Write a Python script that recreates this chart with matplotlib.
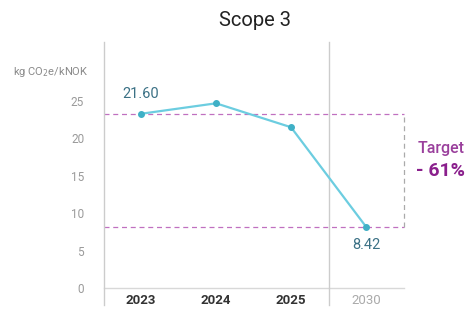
import matplotlib
matplotlib.use("Agg")
import matplotlib.pyplot as plt

years = ["2023", "2024", "2025", "2030"]
values = [23.3, 24.7, 21.5, 8.2]
value_labels = ["21.60", "", "", "8.42"]
target_text = "Target"
target_pct = "- 61%"
yticks = [0, 5, 10, 15, 20, 25]

plt.rcParams["font.family"] = ["Roboto", "DejaVu Sans"]

fig = plt.figure(figsize=(4.72, 3.12), dpi=100)
ax = fig.add_axes([0.2193, 0.0769, 0.6356, 0.7885])

x = list(range(len(years)))
ax.plot(x, values, color="#6ccde0", linewidth=1.6, marker="o", markersize=4,
        markerfacecolor="#3fb0c6", markeredgecolor="#3fb0c6", zorder=3)

# target box
ax.plot([-0.5, 3.5], [values[0], values[0]], color="#c070c0", linestyle=(0, (4, 3)),
        linewidth=0.9, clip_on=False)
ax.plot([-0.5, 3.5], [values[-1], values[-1]], color="#c070c0", linestyle=(0, (4, 3)),
        linewidth=0.9, clip_on=False)
ax.plot([3.5, 3.5], [values[-1], values[0]], color="#aaaaaa", linestyle=(0, (4, 3)),
        linewidth=0.9, clip_on=False)

ax.set_xlim(-0.5, 3.5)
ax.set_ylim(0, 32.9)

for s in ax.spines.values():
    s.set_visible(False)
ax.axhline(0, color="#d8d8d8", linewidth=1.0, clip_on=False)
ax.axvline(-0.5, ymin=-0.07, ymax=1, color="#cccccc", linewidth=1.0, clip_on=False)
ax.axvline(2.5, ymin=-0.07, ymax=1, color="#cccccc", linewidth=1.0, clip_on=False)

ax.set_yticks(yticks)
ax.set_yticklabels([str(t) for t in yticks], color="#9a9a9a", fontsize=8.5)
ax.set_xticks(x)
ax.set_xticklabels(years, fontsize=9.5)
for i, lbl in enumerate(ax.get_xticklabels()):
    if i < 3:
        lbl.set_color("#333333")
        lbl.set_fontweight("bold")
    else:
        lbl.set_color("#aaaaaa")
ax.tick_params(axis="both", length=0)
ax.tick_params(axis="x", pad=4)
ax.tick_params(axis="y", pad=14)

ax.annotate(value_labels[0], (0, values[0]), xytext=(0, 9), textcoords="offset points",
            ha="center", va="bottom", fontsize=10.5, color="#3b7185")
ax.annotate(value_labels[3], (3, values[3]), xytext=(0, -8), textcoords="offset points",
            ha="center", va="top", fontsize=10.5, color="#3b7185")

fig.text(0.884, 0.525, target_text, ha="left", va="center", fontsize=11.5,
         color="#9a3f9c", fontweight="medium")
fig.text(0.882, 0.452, target_pct, ha="left", va="center", fontsize=14,
         color="#8a1f8c", fontweight="bold")

fig.text(0.027, 0.768, "kg CO$_2$e/kNOK", ha="left", va="center", fontsize=8,
         color="#8a8a8a")
fig.text(0.54, 0.935, "Scope 3", ha="center", va="center", fontsize=14.5, color="#222222")

fig.savefig("out.png", dpi=100, facecolor="white")
